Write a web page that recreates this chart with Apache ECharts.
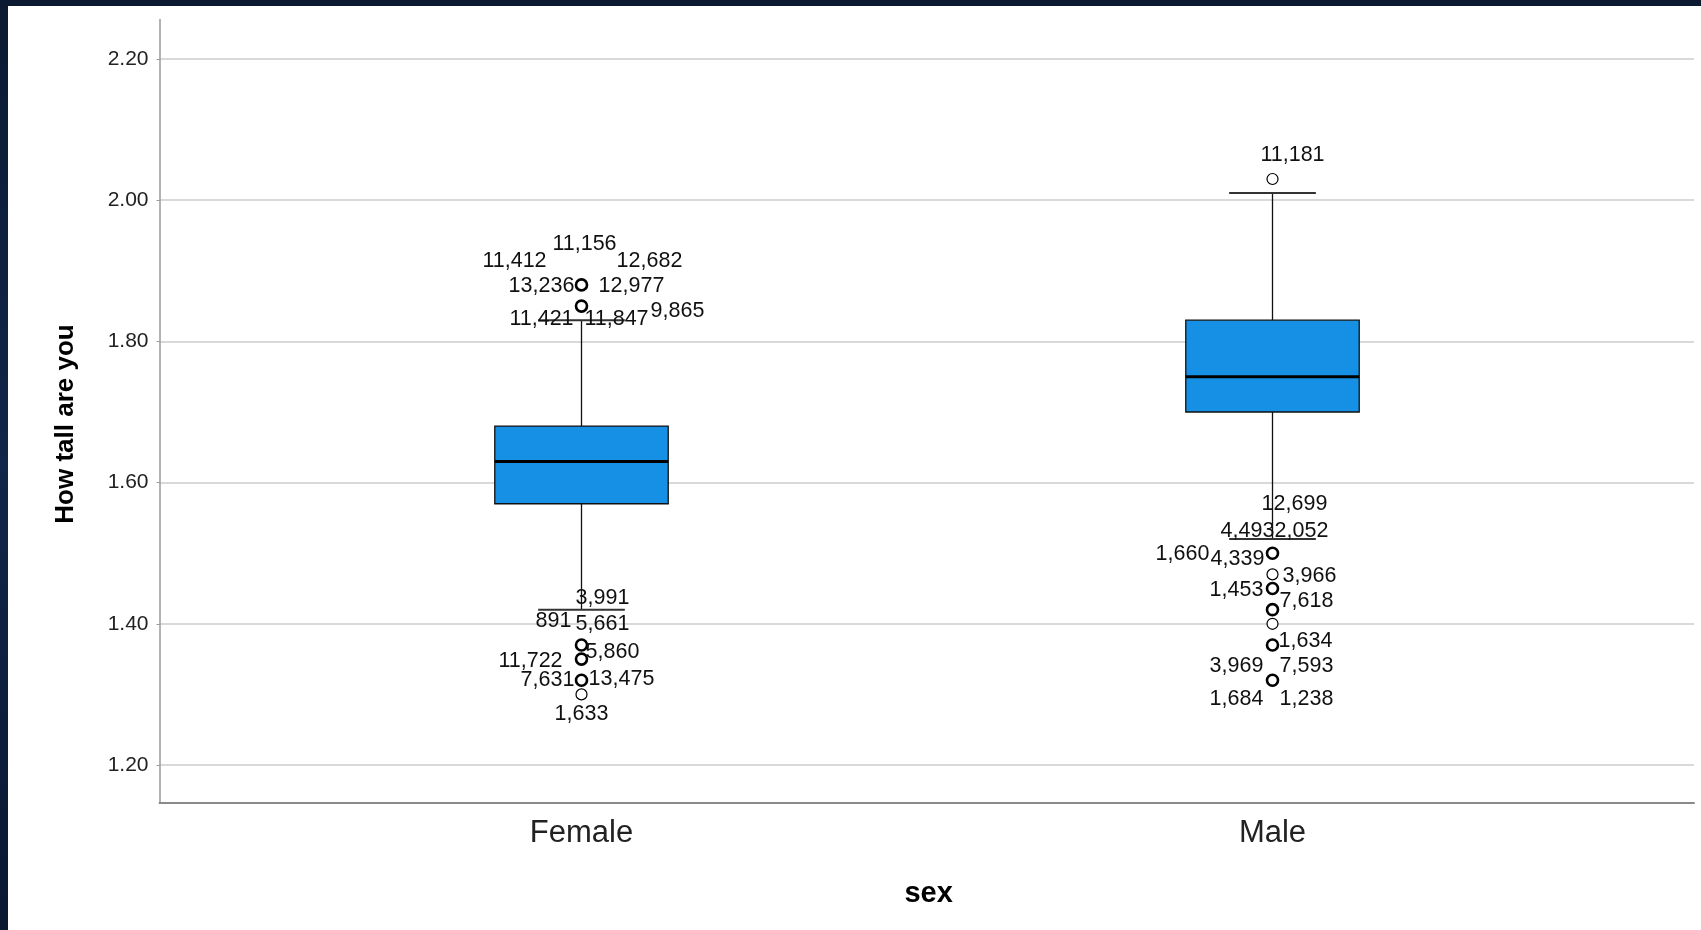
<!DOCTYPE html>
<html>
<head>
<meta charset="utf-8">
<script src="https://cdn.jsdelivr.net/npm/echarts@6/dist/echarts.min.js"></script>
<style>
  html, body { margin: 0; padding: 0; width: 1701px; height: 930px; overflow: hidden;
    background: linear-gradient(180deg, #0b1a30 0%, #10264a 50%, #0a1830 100%); }
  #chart { position: absolute; left: 8px; top: 6px; width: 1693px; height: 924px; background: #fff; }
</style>
</head>
<body>
<div id="chart"></div>
<script>
// ---- data ----
const categories = ['Female', 'Male'];
const whiskerLow  = [1.42, 1.52];
const q1          = [1.57, 1.70];
const median      = [1.63, 1.75];
const q3          = [1.68, 1.83];
const whiskerHigh = [1.83, 2.01];
const yTickLabels = ['1.20', '1.40', '1.60', '1.80', '2.00', '2.20'];
// outliers: [category index, height, number of cases]
const outliers = [
  [0, 1.88, 5], [0, 1.85, 3], [0, 1.37, 3], [0, 1.35, 2], [0, 1.32, 2], [0, 1.30, 1],
  [1, 2.03, 1], [1, 1.50, 5], [1, 1.47, 1], [1, 1.45, 2], [1, 1.42, 2], [1, 1.40, 1], [1, 1.37, 2], [1, 1.32, 4]
];
// case labels: [category index, height, case id]
const outlierLabels = [
  [0, 1.88, '11,156'], [0, 1.88, '11,412'], [0, 1.88, '12,682'], [0, 1.88, '13,236'], [0, 1.88, '12,977'],
  [0, 1.85, '11,421'], [0, 1.85, '11,847'], [0, 1.85, '9,865'],
  [0, 1.37, '3,991'], [0, 1.37, '891'], [0, 1.37, '5,661'],
  [0, 1.35, '5,860'], [0, 1.35, '11,722'],
  [0, 1.32, '7,631'], [0, 1.32, '13,475'],
  [0, 1.30, '1,633'],
  [1, 2.03, '11,181'],
  [1, 1.50, '12,699'], [1, 1.50, '4,493'], [1, 1.50, '2,052'], [1, 1.50, '1,660'], [1, 1.50, '4,339'],
  [1, 1.47, '3,966'], [1, 1.45, '1,453'], [1, 1.42, '7,618'], [1, 1.37, '1,634'],
  [1, 1.32, '3,969'], [1, 1.32, '7,593'], [1, 1.32, '1,684'], [1, 1.32, '1,238']
];
// ---- layout (label offsets in px, same order as outlierLabels) ----
const labelOffsets = [
  [3, -41], [-67, -24], [68, -24], [-40, 1], [50, 1],
  [-40, 13], [35, 13], [96, 5],
  [21, -47], [-28, -24], [21, -21],
  [31, -7], [-51, 2],
  [-34, 0], [40, -1],
  [0, 20],
  [20, -24],
  [22, -49], [-25, -22], [29, -22], [-90, 1], [-35, 6],
  [37, 2], [-36, 2], [34, -9], [33, -4],
  [-36, -14], [34, -14], [-36, 19], [34, 19]
];

const FONT = '"Liberation Sans", Arial, Helvetica, sans-serif';
const Y_MIN = 1.1466, Y_MAX = 2.2559;

const boxData = categories.map((c, i) => [i, whiskerLow[i], q1[i], median[i], q3[i], whiskerHigh[i]]);

const chart = echarts.init(document.getElementById('chart'), null, { renderer: 'canvas' });

const option = {
  animation: false,
  backgroundColor: '#ffffff',
  grid: [
    { left: 151.5, right: 7, top: 13.5, bottom: 127.3 },
    { left: 228, right: 83, top: 13.5, bottom: 127.3 }
  ],
  xAxis: [
    { gridIndex: 0, type: 'value', min: 0, max: 1,
      axisLine: { show: true, lineStyle: { color: '#8a8a8a', width: 2 } },
      axisTick: { show: false }, axisLabel: { show: false }, splitLine: { show: false } },
    { gridIndex: 1, type: 'category', data: categories, boundaryGap: true,
      axisLine: { show: false }, axisTick: { show: false }, splitLine: { show: false },
      axisLabel: { show: true, fontSize: 31, fontFamily: FONT, color: '#222', margin: 15 } }
  ],
  yAxis: [
    { gridIndex: 0, type: 'value', min: Y_MIN, max: Y_MAX, splitNumber: 5,
      axisLine: { show: true, lineStyle: { color: '#9a9a9a', width: 1.5 } },
      axisTick: { show: true, length: 3, lineStyle: { color: '#9a9a9a' } },
      axisLabel: { show: true, fontSize: 21, fontFamily: FONT, color: '#222', margin: 11,
        showMinLabel: false, showMaxLabel: false,
        formatter: v => { const s = v.toFixed(2); return yTickLabels.indexOf(s) >= 0 ? s : ''; } },
      splitLine: { show: true, showMinLine: false, showMaxLine: false, lineStyle: { color: '#cccccc', width: 1.6 } } },
    { gridIndex: 1, type: 'value', min: Y_MIN, max: Y_MAX, show: false, splitLine: { show: false } }
  ],
  graphic: [
    { type: 'text', x: 58, y: 418, rotation: Math.PI / 2, z: 10,
      style: { text: 'How tall are you', font: 'bold 26px ' + FONT, fill: '#000', textAlign: 'center', textVerticalAlign: 'middle' } },
    { type: 'text', x: 920.6, y: 888, z: 10,
      style: { text: 'sex', font: 'bold 29px ' + FONT, fill: '#000', textAlign: 'center', textVerticalAlign: 'middle' } }
  ],
  series: [
    {
      type: 'custom', xAxisIndex: 1, yAxisIndex: 1, z: 3,
      encode: { x: 0, y: [1, 2, 3, 4, 5] },
      data: boxData,
      renderItem: function (params, api) {
        const c = api.value(0);
        const pLo = api.coord([c, api.value(1)]);
        const pQ1 = api.coord([c, api.value(2)]);
        const pMed = api.coord([c, api.value(3)]);
        const pQ3 = api.coord([c, api.value(4)]);
        const pHi = api.coord([c, api.value(5)]);
        const band = api.size([1, 0])[0];
        const bw = band * 0.251;
        const cw = bw / 2;
        const x = pQ1[0];
        const wl = { stroke: '#111', lineWidth: 1.3 };
        const cap = { stroke: '#333', lineWidth: 2 };
        return {
          type: 'group',
          children: [
            { type: 'line', shape: { x1: x, y1: pHi[1], x2: x, y2: pQ3[1] }, style: wl },
            { type: 'line', shape: { x1: x, y1: pQ1[1], x2: x, y2: pLo[1] }, style: wl },
            { type: 'line', shape: { x1: x - cw / 2, y1: pHi[1], x2: x + cw / 2, y2: pHi[1] }, style: cap },
            { type: 'line', shape: { x1: x - cw / 2, y1: pLo[1], x2: x + cw / 2, y2: pLo[1] }, style: cap },
            { type: 'rect', shape: { x: x - bw / 2, y: pQ3[1], width: bw, height: pQ1[1] - pQ3[1] },
              style: { fill: '#1690e4', stroke: '#111', lineWidth: 1.3 } },
            { type: 'line', shape: { x1: x - bw / 2, y1: pMed[1], x2: x + bw / 2, y2: pMed[1] },
              style: { stroke: '#000', lineWidth: 3 } }
          ]
        };
      }
    },
    {
      type: 'scatter', xAxisIndex: 1, yAxisIndex: 1, z: 4,
      symbol: 'circle', symbolSize: 11,
      itemStyle: { color: '#ffffff', borderColor: '#000', borderWidth: 1.2, opacity: 1 },
      data: outliers.map(o => ({ value: [o[0], o[1]], itemStyle: { borderWidth: o[2] > 1 ? 2.6 : 1.2 } })),
      emphasis: { disabled: true }
    },
    {
      type: 'custom', xAxisIndex: 1, yAxisIndex: 1, z: 5, silent: true,
      encode: { x: 0, y: 1 },
      data: outlierLabels.map(l => [l[0], l[1]]),
      renderItem: function (params, api) {
        const p = api.coord([api.value(0), api.value(1)]);
        const off = labelOffsets[params.dataIndex];
        return {
          type: 'text', x: p[0] + off[0], y: p[1] + off[1],
          style: { text: outlierLabels[params.dataIndex][2], font: '21.5px ' + FONT, fill: '#111',
            textAlign: 'center', textVerticalAlign: 'middle' }
        };
      }
    }
  ]
};
chart.setOption(option);
</script>
</body>
</html>
